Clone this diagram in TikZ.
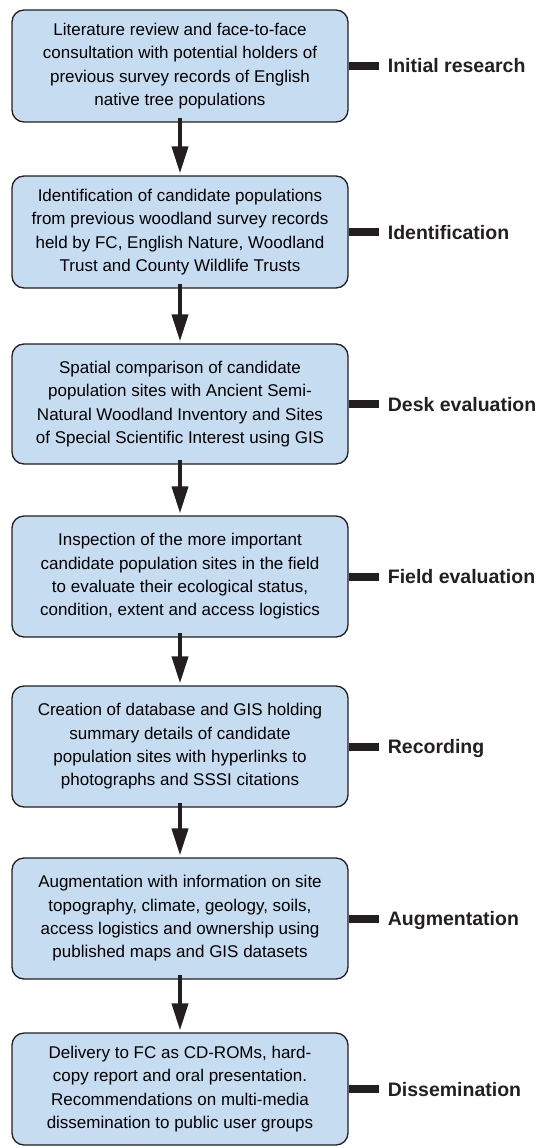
\documentclass[tikz,border=0pt]{standalone}
\usepackage{fontspec}
\setmainfont{Liberation Sans}
\usetikzlibrary{arrows.meta}
\definecolor{boxfill}{RGB}{198,220,240}
\definecolor{ink}{RGB}{35,31,32}
\begin{document}
\begin{tikzpicture}[x=1pt,y=-1pt,
  stepbox/.style={draw=ink, line width=1.3pt, fill=boxfill, rounded corners=12pt,
    minimum width=336pt, align=center, inner sep=0pt,
    font=\fontsize{17}{23.3}\selectfont},
  phase/.style={anchor=west, inner xsep=9pt, inner ysep=0pt, text height=14pt, text depth=0pt,
    font=\fontsize{19.5}{22}\selectfont\bfseries, text=ink},
  bar/.style={draw=ink, line width=8pt},
  flow/.style={draw=ink, line width=4pt, -{Triangle[width=16pt,length=27pt]}}
]
\useasboundingbox (0,0) rectangle (541,1148);

\node[stepbox, minimum height=112pt] (b1) at (180,66)
  {Literature review and face-to-face\\consultation with potential holders of\\previous survey records of English\\native tree populations};
\node[stepbox, minimum height=112pt] (b2) at (180,232)
  {Identification of candidate populations\\from previous woodland survey records\\held by FC, English Nature, Woodland\\Trust and County Wildlife Trusts};
\node[stepbox, minimum height=120pt] (b3) at (180,404)
  {Spatial comparison of candidate\\population sites with Ancient Semi-\\Natural Woodland Inventory and Sites\\of Special Scientific Interest using GIS};
\node[stepbox, minimum height=121pt] (b4) at (180,576.5)
  {Inspection of the more important\\candidate population sites in the field\\to evaluate their ecological status,\\condition, extent and access logistics};
\node[stepbox, minimum height=121pt] (b5) at (180,746.5)
  {Creation of database and GIS holding\\summary details of candidate\\population sites with hyperlinks to\\photographs and SSSI citations};
\node[stepbox, minimum height=121pt] (b6) at (180,918.5)
  {Augmentation with information on site\\topography, climate, geology, soils,\\access logistics and ownership using\\published maps and GIS datasets};
\node[stepbox, minimum height=112pt] (b7) at (180,1089)
  {Delivery to FC as CD-ROMs, hard-\\copy report and oral presentation.\\Recommendations on multi-media\\dissemination to public user groups};

\foreach \a/\b in {b1/b2,b2/b3,b3/b4,b4/b5,b5/b6,b6/b7}
  \draw[flow] ([yshift=5pt]\a.south) -- ([yshift=2pt]\b.north);

\foreach \i/\t in {1/Initial research,2/Identification,3/Desk evaluation,4/Field evaluation,5/Recording,6/Augmentation,7/Dissemination}{
  \node[phase] (l\i) at ([xshift=30pt]b\i.east) {\t};
  \draw[bar] (b\i.east) -- (l\i.west);
}
\end{tikzpicture}
\end{document}
